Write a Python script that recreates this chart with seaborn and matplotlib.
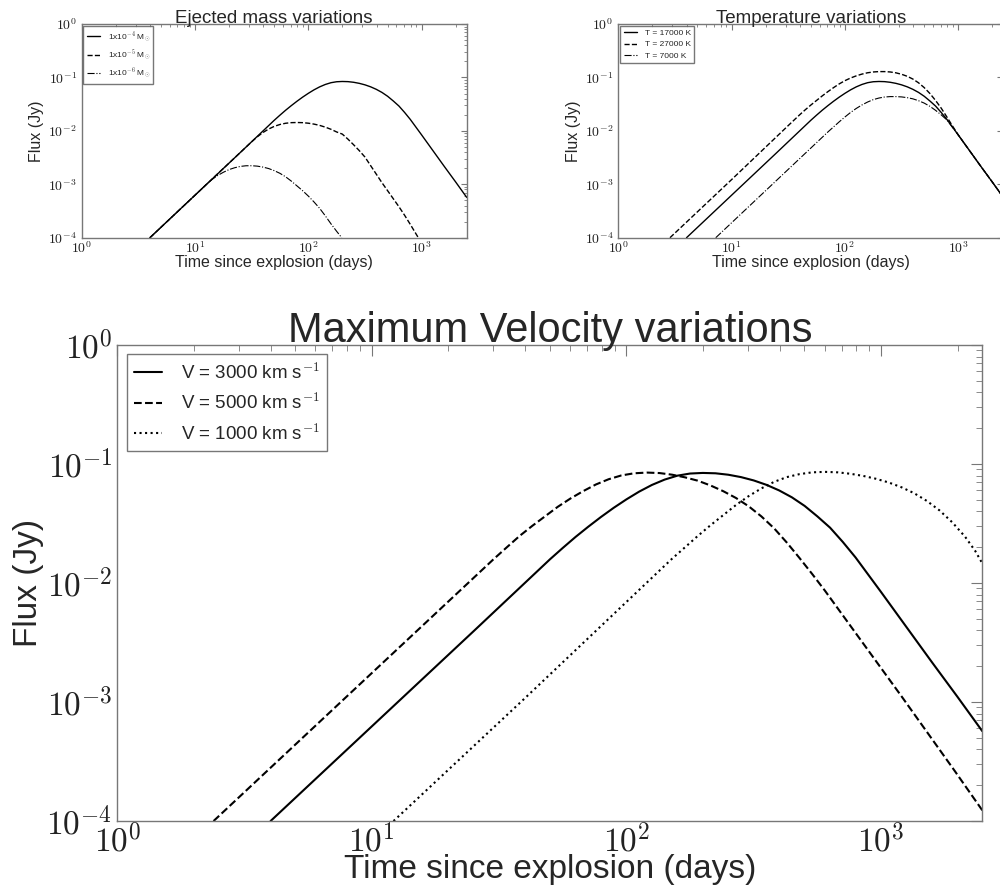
import numpy as np
import pandas as pd
import matplotlib
matplotlib.use("Agg")
import matplotlib.pyplot as plt
import seaborn as sns
from matplotlib.ticker import LogLocator, FuncFormatter

# ---------------- data (log10 values) ----------------
# Reference model: V = 3000 km/s, M = 1e-4 Msun, T = 17000 K
ref_logt = [0.602, 1.000, 1.400, 1.700, 1.750, 1.800, 1.850, 1.900, 1.950, 2.000,
            2.050, 2.100, 2.150, 2.200, 2.250, 2.300, 2.350, 2.400, 2.450, 2.500,
            2.550, 2.600, 2.650, 2.700, 2.750, 2.800, 2.850, 2.900, 2.950, 3.000,
            3.100, 3.200, 3.300, 3.398]
ref_logf = [-4.000, -3.204, -2.404, -1.800, -1.705, -1.613, -1.527, -1.445, -1.368, -1.297,
            -1.232, -1.176, -1.131, -1.098, -1.080, -1.075, -1.078, -1.090, -1.110, -1.138,
            -1.175, -1.222, -1.280, -1.352, -1.440, -1.535, -1.655, -1.785, -1.930, -2.075,
            -2.370, -2.665, -2.955, -3.245]

# V = 5000 km/s
v5_logt = [0.378, 1.000, 1.478, 1.530, 1.580, 1.630, 1.680, 1.730, 1.780, 1.830,
           1.880, 1.930, 1.980, 2.030, 2.080, 2.130, 2.180, 2.230, 2.280, 2.330,
           2.380, 2.430, 2.480, 2.530, 2.580, 2.630, 2.680, 2.730, 2.780, 2.880,
           2.980, 3.080, 3.180, 3.290, 3.398]
v5_logf = [-4.000, -2.756, -1.800, -1.700, -1.605, -1.520, -1.440, -1.360, -1.290, -1.228,
           -1.172, -1.128, -1.096, -1.078, -1.072, -1.076, -1.090, -1.112, -1.140, -1.180,
           -1.228, -1.285, -1.355, -1.440, -1.540, -1.660, -1.790, -1.925, -2.065, -2.360,
           -2.655, -2.950, -3.250, -3.580, -3.910]

# V = 1000 km/s
v1_logt = [1.085, 1.600, 2.177, 2.230, 2.280, 2.330, 2.380, 2.430, 2.480, 2.530,
           2.580, 2.630, 2.680, 2.730, 2.780, 2.830, 2.880, 2.930, 2.980, 3.030,
           3.080, 3.130, 3.180, 3.230, 3.280, 3.330, 3.370, 3.398]
v1_logf = [-4.000, -2.970, -1.800, -1.700, -1.605, -1.515, -1.430, -1.345, -1.270, -1.205,
           -1.150, -1.110, -1.085, -1.070, -1.066, -1.070, -1.082, -1.100, -1.124, -1.155,
           -1.195, -1.245, -1.310, -1.390, -1.490, -1.610, -1.730, -1.835]

# M = 1e-5 Msun
m5_logt = [0.602, 1.400, 1.500, 1.550, 1.600, 1.650, 1.700, 1.750, 1.800, 1.850,
           1.900, 1.950, 2.000, 2.050, 2.100, 2.150, 2.200, 2.250, 2.300, 2.350,
           2.400, 2.450, 2.500, 2.550, 2.600, 2.650, 2.700, 2.750, 2.800, 2.850,
           2.900, 2.971]
m5_logf = [-4.000, -2.404, -2.204, -2.110, -2.030, -1.965, -1.915, -1.880, -1.857, -1.846,
           -1.843, -1.846, -1.856, -1.873, -1.897, -1.930, -1.970, -2.020, -2.060, -2.155,
           -2.260, -2.370, -2.490, -2.650, -2.810, -2.970, -3.120, -3.270, -3.420, -3.580,
           -3.750, -4.000]

# M = 1e-6 Msun
m6_logt = [0.602, 1.050, 1.100, 1.150, 1.200, 1.250, 1.300, 1.350, 1.400, 1.450,
           1.500, 1.550, 1.600, 1.650, 1.700, 1.750, 1.800, 1.850, 1.900, 1.950,
           2.000, 2.050, 2.100, 2.150, 2.200, 2.250, 2.295]
m6_logf = [-4.000, -3.104, -3.000, -2.910, -2.835, -2.775, -2.725, -2.690, -2.665, -2.653,
           -2.652, -2.660, -2.678, -2.705, -2.745, -2.795, -2.860, -2.940, -3.030, -3.120,
           -3.220, -3.330, -3.450, -3.590, -3.740, -3.880, -4.000]

# T = 27000 K
t27_logt = [0.456, 1.000, 1.500, 1.550, 1.600, 1.650, 1.700, 1.750, 1.800, 1.850,
            1.900, 1.950, 2.000, 2.050, 2.100, 2.150, 2.200, 2.250, 2.300, 2.350,
            2.400, 2.450, 2.500, 2.550, 2.600, 2.650, 2.700, 2.750, 2.800, 2.850,
            2.900, 2.950, 3.000, 3.100, 3.200, 3.300, 3.398]
t27_logf = [-4.000, -2.912, -1.900, -1.800, -1.700, -1.605, -1.515, -1.430, -1.345, -1.265,
            -1.190, -1.120, -1.060, -1.010, -0.970, -0.937, -0.912, -0.897, -0.890, -0.890,
            -0.897, -0.913, -0.940, -0.978, -1.030, -1.100, -1.190, -1.300, -1.430, -1.575,
            -1.740, -1.910, -2.075, -2.370, -2.665, -2.955, -3.245]

# T = 7000 K
t7_logt = [0.860, 1.300, 1.750, 1.850, 1.900, 1.950, 2.000, 2.050, 2.100, 2.150,
           2.200, 2.250, 2.300, 2.350, 2.400, 2.450, 2.500, 2.550, 2.600, 2.650,
           2.700, 2.750, 2.800, 2.850, 2.900, 2.950, 3.000, 3.100, 3.200, 3.300, 3.398]
t7_logf = [-4.000, -3.120, -2.220, -2.020, -1.925, -1.830, -1.740, -1.655, -1.580, -1.515,
           -1.460, -1.415, -1.385, -1.366, -1.358, -1.358, -1.364, -1.378, -1.400, -1.435,
           -1.480, -1.540, -1.615, -1.700, -1.795, -1.935, -2.075, -2.370, -2.665, -2.955, -3.245]

mass_labels = [r"1x10$^{-4}$ M$_{\odot}$", r"1x10$^{-5}$ M$_{\odot}$", r"1x10$^{-6}$ M$_{\odot}$"]
temp_labels = ["T = 17000 K", "T = 27000 K", "T = 7000 K"]
vel_labels = [r"V = 3000 km s$^{-1}$", r"V = 5000 km s$^{-1}$", r"V = 1000 km s$^{-1}$"]

titles = ["Ejected mass variations", "Temperature variations", "Maximum Velocity variations"]
xlabel = "Time since explosion (days)"
ylabel = "Flux (Jy)"

# ---------------- style ----------------
sns.set_theme(style="white")
plt.rcParams["font.family"] = ["Liberation Sans", "DejaVu Sans"]
plt.rcParams["mathtext.fontset"] = "cm"
plt.rcParams["axes.edgecolor"] = "#666666"
plt.rcParams["axes.linewidth"] = 1.0

fig = plt.figure(figsize=(10, 8.91), dpi=100)
ax_m = fig.add_axes([0.0817, 0.7332, 0.385, 0.2398])
ax_t = fig.add_axes([0.6183, 0.7332, 0.385, 0.2398])
ax_v = fig.add_axes([0.1173, 0.0785, 0.865, 0.5343])

pow_fmt = FuncFormatter(lambda v, p: r"$10^{%d}$" % int(round(np.log10(v))))


def curve(ax, lt, lf, ls, lw, label):
    df = pd.DataFrame({"t": np.power(10.0, lt), "f": np.power(10.0, lf)})
    sns.lineplot(data=df, x="t", y="f", ax=ax, color="black", linestyle=ls,
                 linewidth=lw, label=label, estimator=None, sort=False)


def style_axes(ax, title, tsize, lsize, ticksize, maj, mnr, title_pad, xpad, ypad):
    ax.set_xscale("log")
    ax.set_yscale("log")
    ax.set_xlim(1, 2500)
    ax.set_ylim(1e-4, 1)
    ax.xaxis.set_major_locator(LogLocator(base=10, numticks=10))
    ax.yaxis.set_major_locator(LogLocator(base=10, numticks=10))
    ax.xaxis.set_minor_locator(LogLocator(base=10, subs=np.arange(2, 10), numticks=20))
    ax.yaxis.set_minor_locator(LogLocator(base=10, subs=np.arange(2, 10), numticks=20))
    ax.xaxis.set_major_formatter(pow_fmt)
    ax.yaxis.set_major_formatter(pow_fmt)
    ax.tick_params(which="both", direction="in", top=True, right=True, colors="#777777",
                   labelcolor="#222222", labelsize=ticksize)
    ax.tick_params(which="major", length=maj, width=0.8)
    ax.tick_params(which="minor", length=mnr, width=0.6)
    ax.tick_params(axis="x", which="major", pad=2)
    ax.set_title(title, fontsize=tsize, pad=title_pad)
    ax.set_xlabel(xlabel, fontsize=lsize, labelpad=xpad)
    ax.set_ylabel(ylabel, fontsize=lsize, labelpad=ypad)
    for s in ax.spines.values():
        s.set_visible(True)
        s.set_color("#777777")


# Ejected mass panel
curve(ax_m, ref_logt, ref_logf, "-", 1.0, mass_labels[0])
curve(ax_m, m5_logt, m5_logf, "--", 1.0, mass_labels[1])
curve(ax_m, m6_logt, m6_logf, "-.", 0.8, mass_labels[2])
style_axes(ax_m, titles[0], 13.5, 11.5, 10, 4, 2, 1, -1, 3)

# Temperature panel
curve(ax_t, ref_logt, ref_logf, "-", 1.0, temp_labels[0])
curve(ax_t, t27_logt, t27_logf, "--", 1.0, temp_labels[1])
curve(ax_t, t7_logt, t7_logf, "-.", 0.8, temp_labels[2])
style_axes(ax_t, titles[1], 13.5, 11.5, 10, 4, 2, 1, -1, 3)

# Velocity panel
curve(ax_v, ref_logt, ref_logf, "-", 1.5, vel_labels[0])
curve(ax_v, v5_logt, v5_logf, "--", 1.5, vel_labels[1])
curve(ax_v, v1_logt, v1_logf, ":", 1.5, vel_labels[2])
style_axes(ax_v, titles[2], 30, 24, 24, 8, 4, 2, -4, 2)

for ax, fs, hl, htp, bap, ls in [(ax_m, 6, 1.6, 0.9, 0.2, 0.45),
                                 (ax_t, 6, 1.6, 0.9, 0.25, 0.4),
                                 (ax_v, 13.5, 1.5, 1.0, 0.5, 0.5)]:
    leg = ax.legend(loc="upper left", fontsize=fs, frameon=True, fancybox=False,
                    handlelength=hl, handletextpad=htp, borderaxespad=bap,
                    labelspacing=ls)
    leg.get_frame().set_edgecolor("#555555")
    leg.get_frame().set_linewidth(1.0)

fig.savefig("out.png", dpi=100)
